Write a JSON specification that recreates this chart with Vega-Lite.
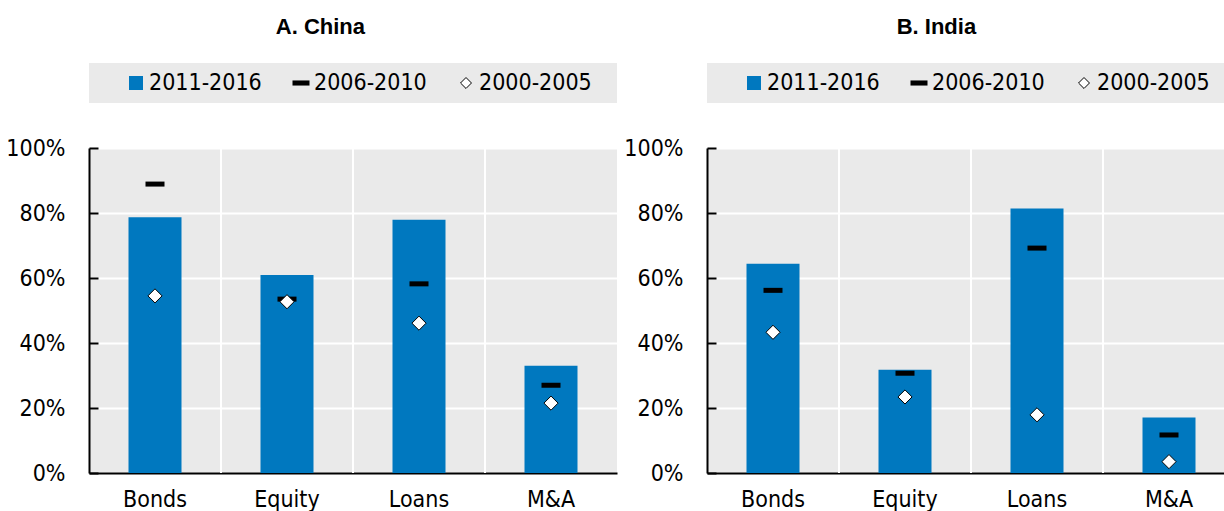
{
  "$schema": "https://vega.github.io/schema/vega-lite/v6.json",
  "background": "white",
  "padding": {"left": 5, "top": 16, "right": 0, "bottom": 0},
  "config": {
    "view": {"stroke": null},
    "font": "DejaVu Sans Condensed, Liberation Sans Narrow, Liberation Sans, sans-serif",
    "axis": {"labelFont": "DejaVu Sans Condensed, Liberation Sans Narrow, Liberation Sans, sans-serif", "labelFontSize": 23, "labelColor": "#000000"},
    "title": {"font": "Liberation Sans", "fontSize": 22, "fontWeight": "bold", "color": "#000000"}
  },
  "datasets": {
    "d": [
      {"panel": "China", "cat": "Bonds", "p2011": 0.787, "p2006": 0.889, "p2000": 0.545},
      {"panel": "China", "cat": "Equity", "p2011": 0.609, "p2006": 0.535, "p2000": 0.527},
      {"panel": "China", "cat": "Loans", "p2011": 0.779, "p2006": 0.582, "p2000": 0.461},
      {"panel": "China", "cat": "M&A", "p2011": 0.33, "p2006": 0.27, "p2000": 0.215},
      {"panel": "India", "cat": "Bonds", "p2011": 0.644, "p2006": 0.562, "p2000": 0.433},
      {"panel": "India", "cat": "Equity", "p2011": 0.318, "p2006": 0.307, "p2000": 0.234},
      {"panel": "India", "cat": "Loans", "p2011": 0.814, "p2006": 0.692, "p2000": 0.179},
      {"panel": "India", "cat": "M&A", "p2011": 0.171, "p2006": 0.117, "p2000": 0.035}
    ],
    "legend": [
      {"item": "2011-2016"},
      {"item": "2006-2010"},
      {"item": "2000-2005"}
    ]
  },
  "hconcat": [
    {
      "title": {"text": "A. China", "anchor": "middle", "offset": 24, "dx": 9},
      "spacing": 45,
      "bounds": "flush",
      "vconcat": [
        {
          "width": 528, "height": 40,
          "data": {"name": "legend"},
          "view": {"fill": "#eaeaea", "stroke": null},
          "encoding": {"x": {"field": "item", "type": "nominal", "sort": null, "scale": {"type": "point", "padding": 0.6, "domain": ["2011-2016", "2006-2010", "2000-2005"]}, "axis": null}},
          "layer": [
            {"transform": [{"filter": "datum.item === '2011-2016'"}], "mark": {"type": "point", "shape": "square", "filled": true, "size": 196, "color": "#0078bf", "opacity": 1, "xOffset": -52}},
            {"transform": [{"filter": "datum.item === '2006-2010'"}], "mark": {"type": "point", "shape": "M-1,-0.3H1V0.3H-1Z", "filled": true, "size": 289, "color": "#000000", "opacity": 1, "xOffset": -52}},
            {"transform": [{"filter": "datum.item === '2000-2005'"}], "mark": {"type": "point", "shape": "diamond", "filled": true, "size": 120, "fill": "#ffffff", "stroke": "#000000", "strokeWidth": 1, "opacity": 1, "xOffset": -52}},
            {"mark": {"type": "text", "align": "left", "baseline": "middle", "fontSize": 23, "color": "#000000", "xOffset": -39}, "encoding": {"text": {"field": "item"}}}
          ]
        },
        {
          "width": 528, "height": 325,
          "data": {"name": "d"},
          "transform": [{"filter": "datum.panel === 'China'"}],
          "view": {"fill": "#eaeaea", "stroke": null},
          "encoding": {
            "x": {"field": "cat", "type": "nominal", "sort": null, "scale": {"type": "band", "paddingInner": 0, "paddingOuter": 0, "domain": ["Bonds", "Equity", "Loans", "M&A"]},
                  "axis": {"title": null, "labelAngle": 0, "ticks": false, "domainColor": "#000000", "domainWidth": 2, "labelPadding": 15, "grid": false}}
          },
          "layer": [
            {"transform": [{"filter": "datum.cat !== 'Bonds'"}], "mark": {"type": "rule", "color": "#ffffff", "strokeWidth": 2},
             "encoding": {"x": {"field": "cat", "type": "nominal", "sort": null, "bandPosition": 0}}},
            {"mark": {"type": "bar", "size": 53, "color": "#0078bf"},
             "encoding": {"y": {"field": "p2011", "type": "quantitative", "scale": {"domain": [0, 1], "nice": false},
               "axis": {"title": null, "format": ".0%", "values": [0, 0.2, 0.4, 0.6, 0.8, 1], "domainColor": "#000000", "domainWidth": 2, "tickColor": "#000000", "tickWidth": 2, "tickSize": -9, "labelPadding": 33, "gridColor": "#ffffff", "gridWidth": 2}}}},
            {"mark": {"type": "tick", "size": 19, "thickness": 5, "color": "#000000", "opacity": 1},
             "encoding": {"y": {"field": "p2006", "type": "quantitative"}}},
            {"mark": {"type": "point", "shape": "diamond", "filled": true, "size": 200, "fill": "#ffffff", "stroke": "#000000", "strokeWidth": 1, "opacity": 1},
             "encoding": {"y": {"field": "p2000", "type": "quantitative"}}}
          ]
        }
      ]
    },
    {
      "title": {"text": "B. India", "anchor": "middle", "offset": 24, "dx": 7},
      "spacing": 45,
      "bounds": "flush",
      "vconcat": [
        {
          "width": 528, "height": 40,
          "data": {"name": "legend"},
          "view": {"fill": "#eaeaea", "stroke": null},
          "encoding": {"x": {"field": "item", "type": "nominal", "sort": null, "scale": {"type": "point", "padding": 0.6, "domain": ["2011-2016", "2006-2010", "2000-2005"]}, "axis": null}},
          "layer": [
            {"transform": [{"filter": "datum.item === '2011-2016'"}], "mark": {"type": "point", "shape": "square", "filled": true, "size": 196, "color": "#0078bf", "opacity": 1, "xOffset": -52}},
            {"transform": [{"filter": "datum.item === '2006-2010'"}], "mark": {"type": "point", "shape": "M-1,-0.3H1V0.3H-1Z", "filled": true, "size": 289, "color": "#000000", "opacity": 1, "xOffset": -52}},
            {"transform": [{"filter": "datum.item === '2000-2005'"}], "mark": {"type": "point", "shape": "diamond", "filled": true, "size": 120, "fill": "#ffffff", "stroke": "#000000", "strokeWidth": 1, "opacity": 1, "xOffset": -52}},
            {"mark": {"type": "text", "align": "left", "baseline": "middle", "fontSize": 23, "color": "#000000", "xOffset": -39}, "encoding": {"text": {"field": "item"}}}
          ]
        },
        {
          "width": 528, "height": 325,
          "data": {"name": "d"},
          "transform": [{"filter": "datum.panel === 'India'"}],
          "view": {"fill": "#eaeaea", "stroke": null},
          "encoding": {
            "x": {"field": "cat", "type": "nominal", "sort": null, "scale": {"type": "band", "paddingInner": 0, "paddingOuter": 0, "domain": ["Bonds", "Equity", "Loans", "M&A"]},
                  "axis": {"title": null, "labelAngle": 0, "ticks": false, "domainColor": "#000000", "domainWidth": 2, "labelPadding": 15, "grid": false}}
          },
          "layer": [
            {"transform": [{"filter": "datum.cat !== 'Bonds'"}], "mark": {"type": "rule", "color": "#ffffff", "strokeWidth": 2},
             "encoding": {"x": {"field": "cat", "type": "nominal", "sort": null, "bandPosition": 0}}},
            {"mark": {"type": "bar", "size": 53, "color": "#0078bf"},
             "encoding": {"y": {"field": "p2011", "type": "quantitative", "scale": {"domain": [0, 1], "nice": false},
               "axis": {"title": null, "format": ".0%", "values": [0, 0.2, 0.4, 0.6, 0.8, 1], "domainColor": "#000000", "domainWidth": 2, "tickColor": "#000000", "tickWidth": 2, "tickSize": -9, "labelPadding": 33, "gridColor": "#ffffff", "gridWidth": 2}}}},
            {"mark": {"type": "tick", "size": 19, "thickness": 5, "color": "#000000", "opacity": 1},
             "encoding": {"y": {"field": "p2006", "type": "quantitative"}}},
            {"mark": {"type": "point", "shape": "diamond", "filled": true, "size": 200, "fill": "#ffffff", "stroke": "#000000", "strokeWidth": 1, "opacity": 1},
             "encoding": {"y": {"field": "p2000", "type": "quantitative"}}}
          ]
        }
      ]
    }
  ],
  "spacing": 6
}
